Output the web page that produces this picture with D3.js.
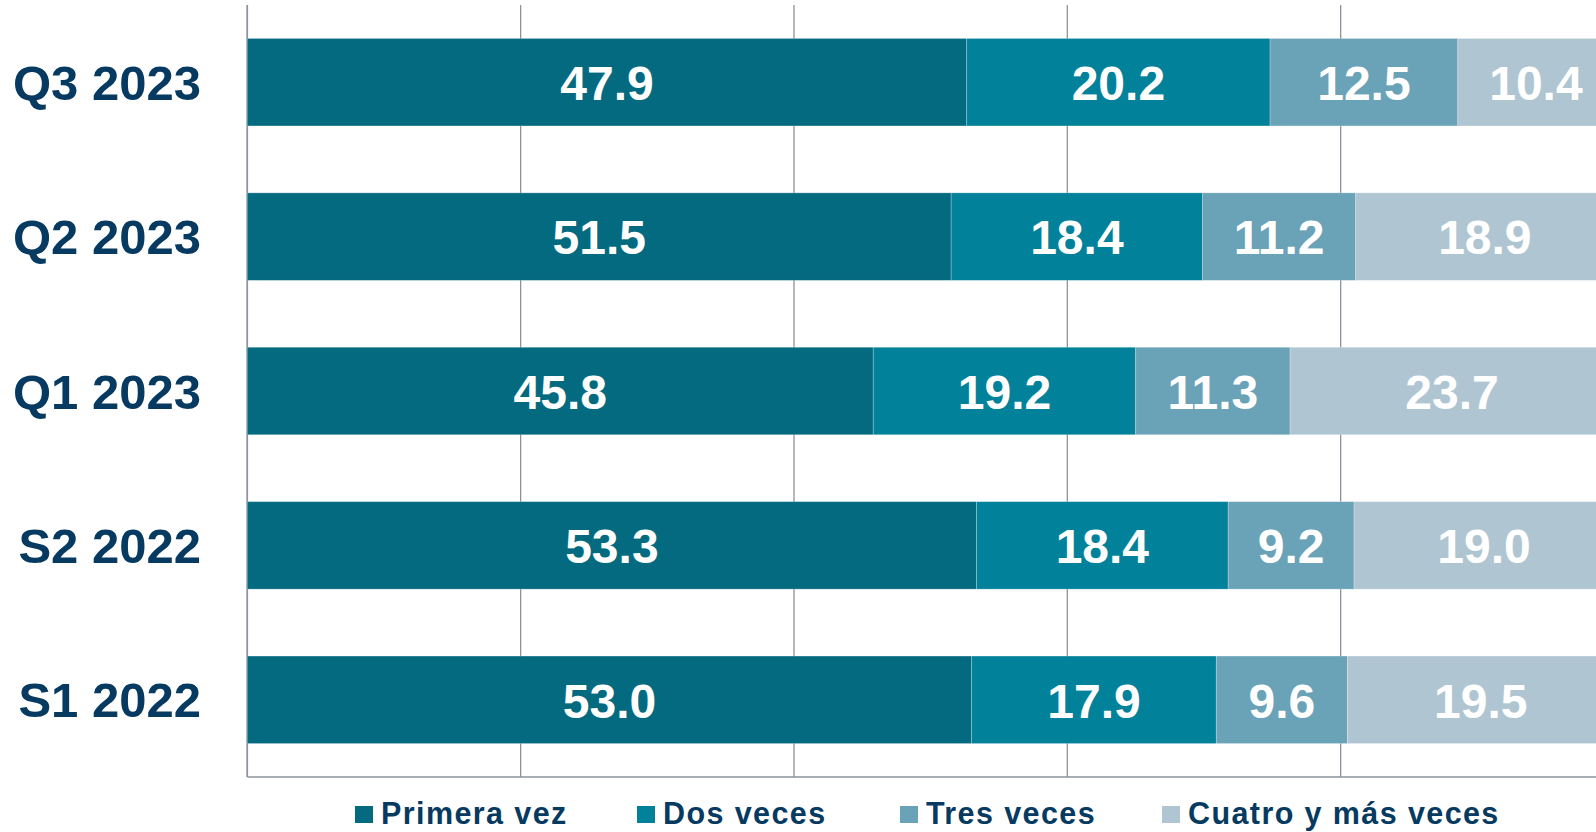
<!DOCTYPE html>
<html>
<head>
<meta charset="utf-8">
<script src="https://cdn.jsdelivr.net/npm/d3@7"></script>
<style>
  html, body { margin: 0; padding: 0; background: #fff; overflow: hidden; }
  svg { display: block; }
</style>
</head>
<body>
<div id="chart"></div>
<script>
// ---- Data ----
const categories = ["Q3 2023", "Q2 2023", "Q1 2023", "S2 2022", "S1 2022"];
const seriesNames = ["Primera vez", "Dos veces", "Tres veces", "Cuatro y más veces"];
const primeraVez = [47.9, 51.5, 45.8, 53.3, 53.0];
const dosVeces   = [20.2, 18.4, 19.2, 18.4, 17.9];
const tresVeces  = [12.5, 11.2, 11.3, 9.2, 9.6];
const cuatroMas  = [10.4, 18.9, 23.7, 19.0, 19.5];
const xTicks = [0, 20, 40, 60, 80, 100];

const seriesValues = [primeraVez, dosVeces, tresVeces, cuatroMas];
const colors = ["#046a80", "#02819b", "#6aa3b7", "#afc6d2"];
const textColor = "#063a60";
const gridColor = "#8c939c";

const W = 1596, H = 832;
const svg = d3.select("#chart").append("svg").attr("width", W).attr("height", H);

const x = d3.scaleLinear().domain([0, 100]).range([247.3, 1614]);
const y = d3.scaleBand().domain(categories).range([5, 777]).paddingInner(0.4333).paddingOuter(0.4333 / 2);

// rows normalized to 100%
const rows = categories.map((c, i) => {
  const vals = seriesValues.map(s => s[i]);
  const total = d3.sum(vals);
  let acc = 0;
  return vals.map((v, k) => {
    const p = v / total * 100;
    const seg = { cat: c, k, v, x0: acc, x1: acc + p };
    acc += p;
    return seg;
  });
});

// gridlines
svg.append("g").selectAll("line").data(xTicks).join("line")
  .attr("x1", d => x(d)).attr("x2", d => x(d))
  .attr("y1", 5).attr("y2", 777)
  .attr("stroke", gridColor).attr("stroke-width", 1.3);

// bottom axis line
svg.append("line").attr("x1", x(0)).attr("x2", W).attr("y1", 777).attr("y2", 777)
  .attr("stroke", gridColor).attr("stroke-width", 1.6);
// left axis line
svg.append("line").attr("x1", x(0)).attr("x2", x(0)).attr("y1", 5).attr("y2", 777)
  .attr("stroke", gridColor).attr("stroke-width", 1.6);

// bars
const gBars = svg.append("g");
rows.forEach(row => {
  gBars.selectAll(null).data(row).join("rect")
    .attr("x", d => x(d.x0))
    .attr("width", d => x(d.x1) - x(d.x0))
    .attr("y", d => y(d.cat))
    .attr("height", y.bandwidth())
    .attr("fill", d => colors[d.k])
    .attr("stroke", "#ffffff").attr("stroke-opacity", 0.3).attr("stroke-width", 0.8);
  gBars.selectAll(null).data(row).join("text")
    .attr("x", d => (x(d.x0) + Math.min(x(d.x1), W + 30)) / 2)
    .attr("y", d => y(d.cat) + y.bandwidth() / 2)
    .attr("dy", "0.37em")
    .attr("text-anchor", "middle")
    .attr("fill", "#ffffff")
    .attr("font-family", "'Liberation Sans', Arial, sans-serif")
    .attr("font-weight", "bold")
    .attr("font-size", 48)
    .text(d => d.v.toFixed(1));
});

// category labels
svg.append("g").selectAll("text").data(categories).join("text")
  .attr("x", 201)
  .attr("y", d => y(d) + y.bandwidth() / 2)
  .attr("dy", "0.36em")
  .attr("text-anchor", "end")
  .attr("fill", textColor)
  .attr("font-family", "'Liberation Sans', Arial, sans-serif")
  .attr("font-weight", "bold")
  .attr("font-size", 49)
  .text(d => d);

// legend
const legendX = [355, 637, 900, 1162];
const lg = svg.append("g");
seriesNames.forEach((name, i) => {
  lg.append("rect").attr("x", legendX[i]).attr("y", 806).attr("width", 18).attr("height", 17)
    .attr("fill", colors[i]);
  lg.append("text").attr("x", legendX[i] + 26).attr("y", 824)
    .attr("fill", textColor)
    .attr("font-family", "'Liberation Sans', Arial, sans-serif")
    .attr("font-weight", "bold")
    .attr("font-size", 30.5)
    .attr("letter-spacing", 1.4)
    .text(name);
});
</script>
</body>
</html>
